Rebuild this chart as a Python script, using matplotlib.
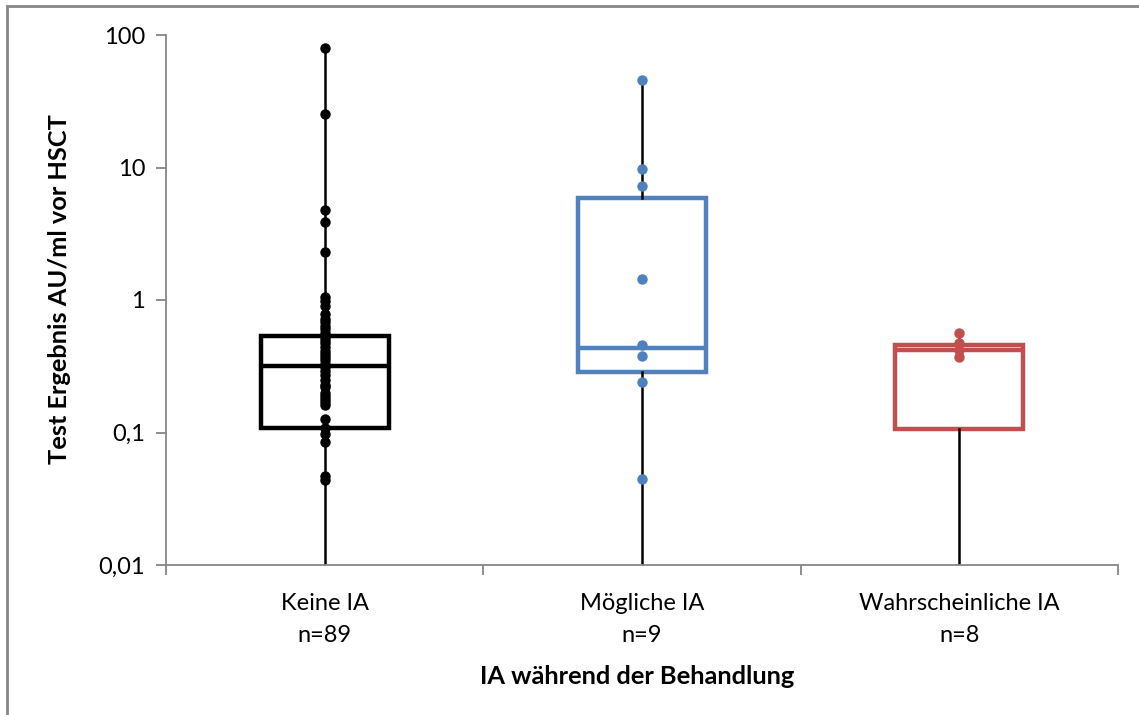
import matplotlib

matplotlib.use("Agg")
import matplotlib.pyplot as plt
from matplotlib.patches import Rectangle
from matplotlib.ticker import FixedLocator, NullFormatter, NullLocator

plt.rcParams["font.family"] = ["Lato", "DejaVu Sans"]

categories = ["Keine IA", "Mögliche IA", "Wahrscheinliche IA"]
counts = [89, 9, 8]

# box statistics per group (AU/ml)
q1 = [0.108, 0.286, 0.106]
medians = [0.318, 0.434, 0.42]
q3 = [0.535, 5.9, 0.457]
whisker_low = [0.001, 0.001, 0.001]
whisker_high = [80.0, 45.8, 0.56]

# individual measurements above the detection floor
keine_ia = [
    80.0, 25.3, 4.8, 3.9, 2.3, 1.06, 0.98, 0.9, 0.78, 0.72, 0.68, 0.64,
    0.6, 0.56, 0.53, 0.5, 0.47, 0.44, 0.41, 0.39, 0.37, 0.35, 0.33, 0.31,
    0.29, 0.27, 0.25, 0.23, 0.22, 0.2, 0.19, 0.18, 0.17, 0.16, 0.127,
    0.108, 0.098, 0.085, 0.047, 0.044,
]
moegliche_ia = [45.8, 9.75, 7.3, 1.44, 0.457, 0.378, 0.241, 0.0446]
wahrscheinliche_ia = [0.56, 0.47, 0.42, 0.37]

colors = ["#000000", "#4F81BD", "#C0504D"]
points = [keine_ia, moegliche_ia, wahrscheinliche_ia]
axis_grey = "#868686"

W, H = 1139, 715
fig = plt.figure(figsize=(W / 100, H / 100), dpi=100)
fig.patches.append(
    Rectangle((7 / W, -0.1), 1.2, 1 - 6 / H + 0.1, transform=fig.transFigure,
              fill=False, edgecolor=axis_grey, linewidth=2, zorder=0)
)
ax = fig.add_axes([166 / W, 1 - 565 / H, (1118 - 166) / W, 530 / H])

positions = list(range(len(categories)))
for i, pos in enumerate(positions):
    stats = [{
        "med": medians[i], "q1": q1[i], "q3": q3[i],
        "whislo": whisker_low[i], "whishi": whisker_high[i], "fliers": [],
    }]
    ax.bxp(
        stats, positions=[pos], widths=0.403, showcaps=False, patch_artist=True,
        boxprops=dict(facecolor="white", edgecolor=colors[i], linewidth=3.2),
        medianprops=dict(color=colors[i], linewidth=3.2),
        whiskerprops=dict(color="black", linewidth=1.8),
        manage_ticks=False,
    )
    ax.plot([pos] * len(points[i]), points[i], "o", color=colors[i],
            markersize=7.5, markeredgewidth=0, zorder=5, clip_on=False)

ax.set_yscale("log")
ax.set_ylim(0.01, 100)
ax.set_xlim(-0.5, 2.5)

ax.yaxis.set_major_locator(FixedLocator([0.01, 0.1, 1, 10, 100]))
ax.yaxis.set_minor_locator(NullLocator())
ax.set_yticklabels(["0,01", "0,1", "1", "10", "100"])

ax.xaxis.set_major_locator(FixedLocator([-0.5, 0.5, 1.5, 2.5]))
ax.xaxis.set_major_formatter(NullFormatter())
ax.xaxis.set_minor_locator(FixedLocator(positions))
ax.set_xticklabels([f"{c}\nn={n}" for c, n in zip(categories, counts)],
                   minor=True, linespacing=1.65)
ax.tick_params(axis="x", which="minor", length=0, pad=20, labelsize=17)
ax.tick_params(axis="x", which="major", length=7, width=1.3, color=axis_grey)
ax.tick_params(axis="y", which="major", length=7, width=1.3, color=axis_grey,
               labelsize=17, pad=8)

for side in ("top", "right"):
    ax.spines[side].set_visible(False)
for side in ("left", "bottom"):
    ax.spines[side].set_color(axis_grey)
    ax.spines[side].set_linewidth(1.3)

# axis titles placed in figure pixels
fig.text(60 / W, 1 - 289 / H, "Test Ergebnis AU/ml vor HSCT", rotation=90,
         ha="center", va="center", fontsize=18.3, fontweight="bold")
fig.text(637 / W, 1 - 677 / H, "IA während der Behandlung",
         ha="center", va="center", fontsize=18.3, fontweight="bold")

fig.savefig("out.png", dpi=100)
